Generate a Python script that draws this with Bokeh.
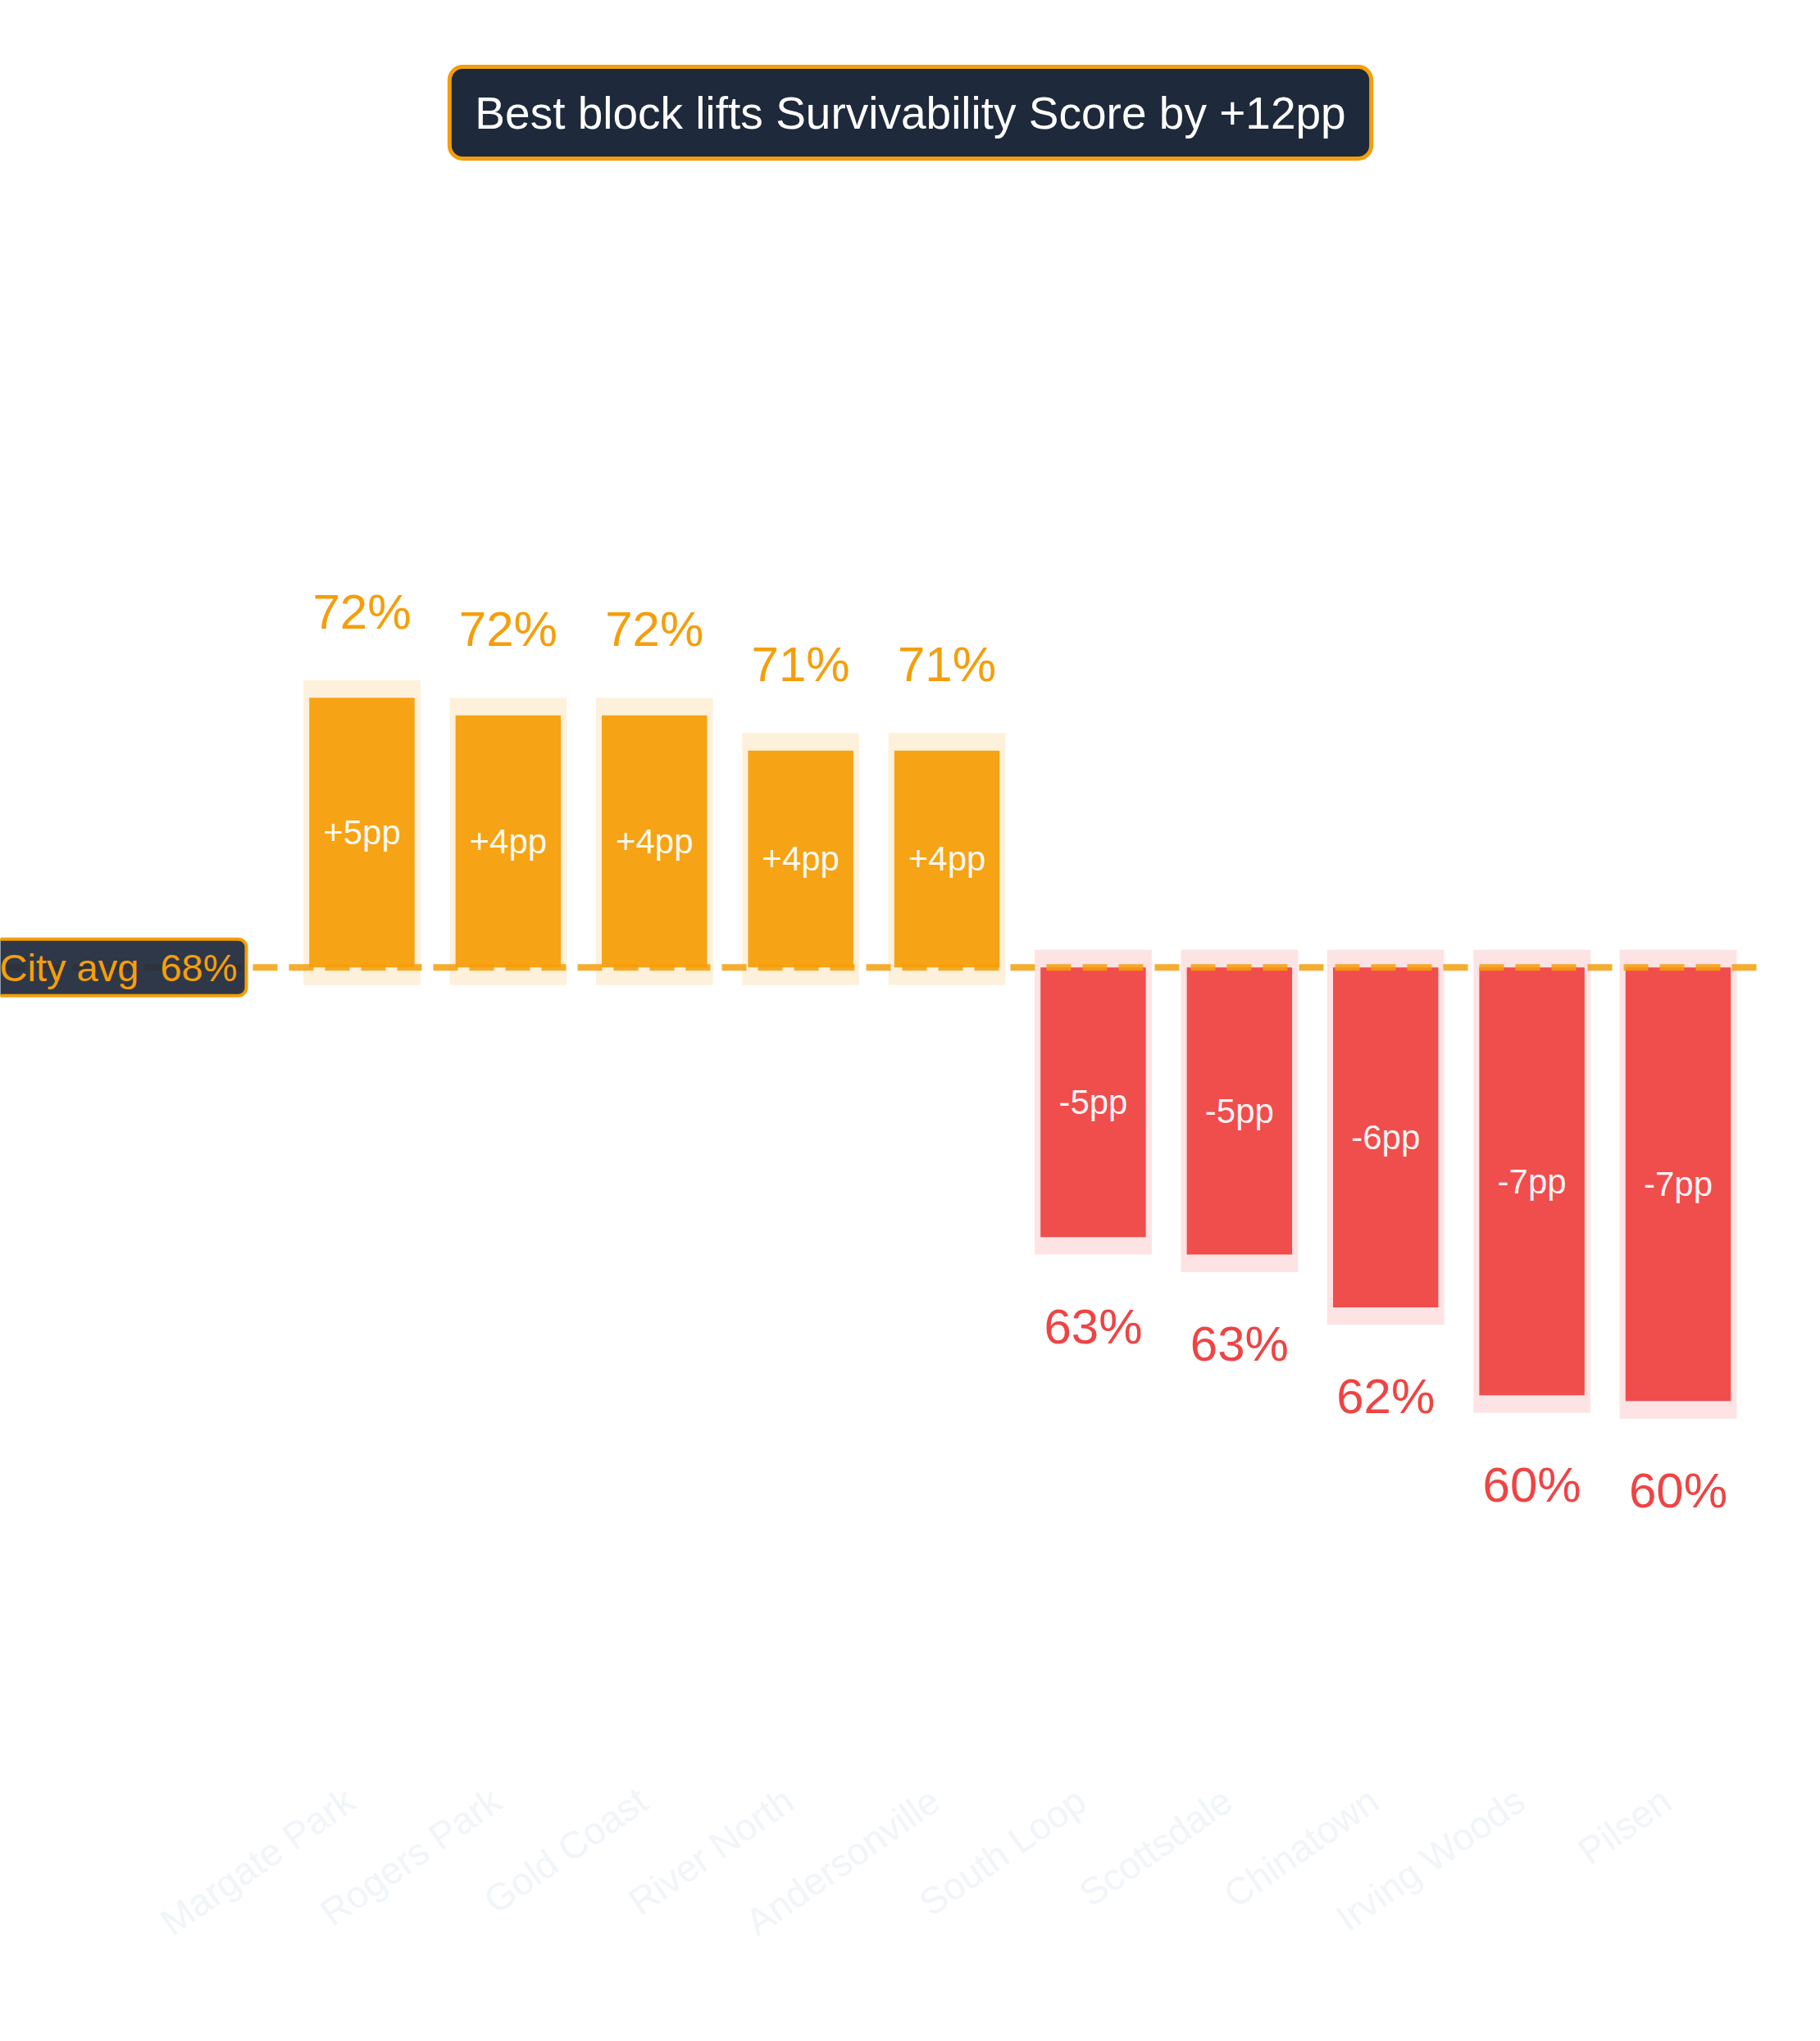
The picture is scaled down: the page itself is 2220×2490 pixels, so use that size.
import math
from bokeh.plotting import figure
from bokeh.models import Range1d, Span, Label, LinearAxis, FixedTicker, ColumnDataSource
from bokeh.core.properties import value
from bokeh.embed import file_html
from bokeh.resources import INLINE

# ---- data -------------------------------------------------------------
neighborhoods = ["Margate Park", "Rogers Park", "Gold Coast", "River North",
                 "Andersonville", "South Loop", "Scottsdale", "Chinatown",
                 "Irving Woods", "Pilsen"]
scores = [72.2, 71.9, 71.9, 71.3, 71.3, 63.0, 62.7, 61.8, 60.3, 60.2]
city_avg = 67.6

# ---- style ------------------------------------------------------------
FONT = "Liberation Sans"
AMBER = "#f59e0b"
RED = "#ef4444"
NAVY = "#1e293b"
LABEL_GREY = "#f1f5f9"

xs = list(range(len(neighborhoods)))
deltas = [s - city_avg for s in scores]
is_pos = [d >= 0 for d in deltas]
colors = [AMBER if p else RED for p in is_pos]
tops = [max(s, city_avg) for s in scores]
bottoms = [min(s, city_avg) for s in scores]
mids = [(s + city_avg) / 2 for s in scores]
pct_labels = [f"{s:.0f}%" for s in scores]
delta_labels = [f"{d:+.0f}pp" for d in deltas]
spread = max(scores) - min(scores)

PAD = 0.3
src = ColumnDataSource(dict(
    x=xs, top=tops, bottom=bottoms, mid=mids, color=colors,
    htop=[t + PAD for t in tops], hbottom=[b - PAD for b in bottoms],
    dlab=delta_labels,
))
pos_src = ColumnDataSource(dict(
    x=[x for x, p in zip(xs, is_pos) if p],
    y=[t for t, p in zip(tops, is_pos) if p],
    t=[l for l, p in zip(pct_labels, is_pos) if p],
))
neg_src = ColumnDataSource(dict(
    x=[x for x, p in zip(xs, is_pos) if not p],
    y=[b for b, p in zip(bottoms, is_pos) if not p],
    t=[l for l, p in zip(pct_labels, is_pos) if not p],
))

p = figure(width=2204, height=2474,
           x_range=Range1d(-2.472, 9.597), y_range=Range1d(53.61, 84.10),
           output_backend="svg", toolbar_location=None,
           x_axis_location=None, y_axis_location=None,
           min_border_left=0, min_border_right=51,
           min_border_top=0, min_border_bottom=294)
p.outline_line_color = None
p.background_fill_color = "white"
p.border_fill_color = "white"
p.grid.visible = False

# halo
p.vbar(x="x", top="htop", bottom="hbottom", width=0.8, source=src,
       fill_color="color", fill_alpha=0.15, line_color=None)
# bars
p.vbar(x="x", top="top", bottom="bottom", width=0.72, source=src,
       fill_color="color", fill_alpha=0.95, line_color=None)

# inner delta labels
p.text(x="x", y="mid", text="dlab", source=src, text_align="center",
       text_baseline="middle", text_font=value(FONT), text_font_size="42px",
       text_color="white", text_alpha=0.95)

# value labels
p.text(x="x", y="y", text="t", source=pos_src, text_align="center",
       text_baseline="alphabetic", y_offset=-105, text_font=value(FONT),
       text_font_size="60px", text_color=AMBER)
p.text(x="x", y="y", text="t", source=neg_src, text_align="center",
       text_baseline="alphabetic", y_offset=109, text_font=value(FONT),
       text_font_size="60px", text_color=RED)

# city average line + label
p.add_layout(Span(location=city_avg, dimension="width", line_color=AMBER,
                  line_alpha=0.85, line_width=8, line_dash="30 14"))
p.add_layout(Label(x=-12, y=city_avg, x_units="screen", y_units="data",
                   text=f"City avg \u00a0{city_avg:.0f}%", text_font=FONT,
                   text_font_size="47px", text_color=AMBER,
                   text_align="left", text_baseline="middle",
                   background_fill_color=NAVY, background_fill_alpha=0.93,
                   border_line_color=AMBER, border_line_width=4,
                   padding=dict(x=11, y=8), border_radius=10))

# headline box
p.add_layout(Label(x=1110, y=2043, x_units="screen", y_units="screen",
                   text=f"Best block lifts Survivability Score by +{spread:.0f}pp",
                   text_font=FONT, text_font_size="55px", text_color="white",
                   text_align="center", text_baseline="middle",
                   background_fill_color=NAVY, background_fill_alpha=1.0,
                   border_line_color=AMBER, border_line_width=5,
                   padding=dict(x=31, y=25), border_radius=16))

# category axis (label anchors nudged slightly left of bar centres)
NUDGE = 0.08
tick_pos = [round(i - NUDGE, 3) for i in xs]
ax = LinearAxis(ticker=FixedTicker(ticks=tick_pos),
                major_label_overrides={t: n for t, n in zip(tick_pos, neighborhoods)})
ax.axis_line_color = None
ax.major_tick_line_color = None
ax.minor_tick_line_color = None
ax.major_label_orientation = math.radians(35)
ax.major_label_text_font = FONT
ax.major_label_text_font_size = "46px"
ax.major_label_text_color = LABEL_GREY
p.add_layout(ax, "below")

open("out.html", "w").write(file_html(p, INLINE))
